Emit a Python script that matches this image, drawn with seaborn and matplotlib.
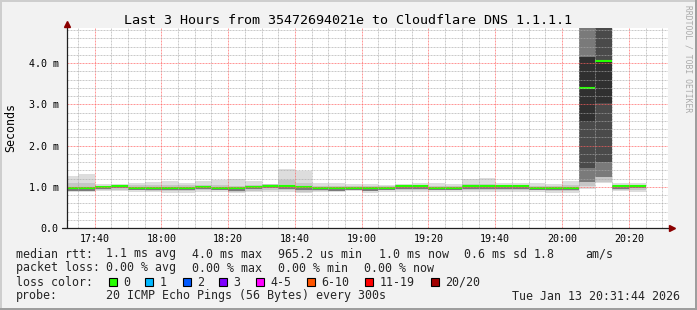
import numpy as np
import matplotlib
matplotlib.use("Agg")
import matplotlib.pyplot as plt
from matplotlib.patches import Rectangle
import seaborn as sns

# ---------------- data ----------------
bin_times = ["17:30", "17:35", "17:40", "17:45", "17:50", "17:55", "18:00", "18:05",
             "18:10", "18:15", "18:20", "18:25", "18:30", "18:35", "18:40", "18:45",
             "18:50", "18:55", "19:00", "19:05", "19:10", "19:15", "19:20", "19:25",
             "19:30", "19:35", "19:40", "19:45", "19:50", "19:55", "20:00", "20:05",
             "20:10", "20:15", "20:20"]

# median rtt (ms)
median_ms = [0.96, 0.96, 1.00, 1.02, 0.98, 0.98, 0.98, 0.98, 1.00, 0.97, 0.96, 1.00,
             1.02, 1.01, 0.99, 0.98, 0.96, 0.97, 0.96, 0.98, 1.01, 1.01, 0.98, 0.98,
             1.01, 1.01, 1.01, 1.01, 0.98, 0.975, 0.975, 3.39, 4.04, 1.01, 1.02]

# smoke layers (outer -> inner), lower / upper bounds in ms
smoke1_lo = [0.88, 0.88, 0.90, 0.89, 0.88, 0.87, 0.86, 0.86, 0.88, 0.88, 0.84, 0.87,
             0.88, 0.88, 0.84, 0.87, 0.88, 0.89, 0.86, 0.87, 0.88, 0.88, 0.87, 0.88,
             0.87, 0.88, 0.88, 0.87, 0.88, 0.86, 0.86, 0.95, 1.08, 0.89, 0.88]
smoke1_hi = [1.26, 1.30, 1.06, 1.07, 1.10, 1.11, 1.13, 1.10, 1.13, 1.16, 1.18, 1.15,
             1.07, 1.42, 1.38, 1.10, 1.10, 1.07, 1.06, 1.05, 1.07, 1.10, 1.10, 1.07,
             1.18, 1.22, 1.10, 1.10, 1.08, 1.07, 1.13, 5.00, 5.00, 1.08, 1.08]
smoke2_lo = [0.91, 0.91, 0.93, 0.93, 0.91, 0.90, 0.90, 0.90, 0.91, 0.91, 0.88, 0.90,
             0.92, 0.91, 0.88, 0.90, 0.91, 0.92, 0.90, 0.91, 0.92, 0.92, 0.91, 0.92,
             0.91, 0.92, 0.92, 0.91, 0.91, 0.90, 0.90, 1.03, 1.12, 0.93, 0.92]
smoke2_hi = [1.10, 1.08, 1.03, 1.05, 1.04, 1.04, 1.05, 1.04, 1.05, 1.04, 1.03, 1.05,
             1.06, 1.17, 1.10, 1.03, 1.01, 1.01, 1.01, 1.02, 1.04, 1.05, 1.03, 1.03,
             1.06, 1.07, 1.05, 1.05, 1.03, 1.02, 1.04, 5.00, 5.00, 1.04, 1.05]
smoke3_lo = [0.90, 0.90, 0.94, 0.96, 0.92, 0.92, 0.92, 0.92, 0.94, 0.91, 0.90, 0.94,
             0.96, 0.95, 0.93, 0.92, 0.90, 0.91, 0.90, 0.92, 0.95, 0.95, 0.92, 0.92,
             0.95, 0.95, 0.95, 0.95, 0.92, 0.915, 0.915, 1.12, 1.24, 0.95, 0.96]
smoke3_hi = [0.98, 0.98, 1.02, 1.04, 1.00, 1.00, 1.00, 1.00, 1.02, 0.99, 0.98, 1.02,
             1.04, 1.03, 1.01, 1.00, 0.98, 0.99, 0.98, 1.00, 1.03, 1.03, 1.00, 1.00,
             1.03, 1.03, 1.03, 1.03, 1.00, 0.995, 0.995, 5.00, 5.00, 1.03, 1.04]
# inner layers only visible in the two high-latency bins
smoke4_lo = [None] * 31 + [1.46, 1.60, None, None]
smoke4_hi = [None] * 31 + [4.15, 5.00, None, None]
smoke5_lo = [None] * 31 + [2.58, 3.03, None, None]
smoke5_hi = [None] * 31 + [4.15, 4.08, None, None]

smoke_colors = ["#dddddd", "#c6c6c6", "#7a7a7a", "#4a4a4a", "#303030"]

x_tick_labels = ["17:40", "18:00", "18:20", "18:40", "19:00", "19:20", "19:40", "20:00", "20:20"]
y_tick_values = [0.0, 1.0, 2.0, 3.0, 4.0]
y_tick_labels = ["0.0", "1.0 m", "2.0 m", "3.0 m", "4.0 m"]

loss_labels = ["0", "1", "2", "3", "4-5", "6-10", "11-19", "20/20"]
loss_colors = ["#26ff00", "#00b8ff", "#0059ff", "#7e00ff", "#ff00ff", "#ff5500", "#ff0000", "#a10000"]

title = "Last 3 Hours from 35472694021e to Cloudflare DNS 1.1.1.1"
window_end = "20:31:44"

# ---------------- figure ----------------
W, H = 697, 310
sns.set_theme(style="white")
plt.rcParams["font.family"] = ["DejaVu Sans Mono", "DejaVu Sans"]

def to_min(s):
    parts = [int(p) for p in s.split(":")]
    return parts[0] * 60 + parts[1] + (parts[2] / 60 if len(parts) > 2 else 0)

t = np.array([to_min(s) for s in bin_times])
BIN = 5.0
t_end = to_min(window_end)
t_start = t_end - 180

fig = plt.figure(figsize=(W / 100, H / 100), dpi=100)
fig.patch.set_facecolor("#f2f2f2")
ax = fig.add_axes([67 / W, 1 - 228 / H, 601 / W, 200 / H])
ax.set_facecolor("white")

layers = [(smoke1_lo, smoke1_hi), (smoke2_lo, smoke2_hi), (smoke3_lo, smoke3_hi),
          (smoke4_lo, smoke4_hi), (smoke5_lo, smoke5_hi)]
for (lo, hi), col in zip(layers, smoke_colors):
    lo = np.array([np.nan if v is None else v for v in lo], dtype=float)
    hi = np.array([np.nan if v is None else v for v in hi], dtype=float)
    m = ~np.isnan(lo)
    ax.bar(t[m], hi[m] - lo[m], bottom=lo[m], width=BIN, align="edge",
           color=col, linewidth=0, zorder=1)

ax.hlines(median_ms, t, t + BIN, colors=loss_colors[0], linewidth=1.5, zorder=2)

ax.set_xlim(t_start, t_end)
ax.set_ylim(0, 4.85)

xt = [to_min(s) for s in x_tick_labels]
ax.set_xticks(xt)
ax.set_xticklabels(x_tick_labels)
ax.set_xticks(np.arange(xt[0] - 5, t_end, 5), minor=True)
ax.set_yticks(y_tick_values)
ax.set_yticklabels(y_tick_labels)
ax.set_yticks(np.arange(0, 4.85, 0.2), minor=True)

ax.set_axisbelow(False)
ax.grid(which="minor", color="#a8a8a8", alpha=0.6, linestyle=(0, (2, 1)), linewidth=0.72)
ax.grid(which="major", color="#ff6060", alpha=0.65, linestyle=(0, (2, 1)), linewidth=0.72)

for sp in ax.spines.values():
    sp.set_visible(False)
ax.tick_params(axis="both", which="both", length=0, colors="#000000", labelsize=7.2)
ax.tick_params(axis="y", pad=6)
ax.tick_params(axis="x", pad=4)

# axis lines with arrows
ax.plot([-5 / 601, 1 + 2 / 601], [0, 0], transform=ax.transAxes, color="#202020",
        lw=0.9, clip_on=False, zorder=5)
ax.plot([0, 0], [0, 1 + 3 / 200], transform=ax.transAxes, color="#202020",
        lw=0.9, clip_on=False, zorder=5)
ax.plot([1 + 4 / 601], [0], marker=">", markersize=4, color="#8b0000",
        transform=ax.transAxes, clip_on=False, zorder=6)
ax.plot([0], [1 + 4 / 200], marker="^", markersize=4, color="#8b0000",
        transform=ax.transAxes, clip_on=False, zorder=6)

def ftext(x, y, s, **kw):
    fig.text(x / W, 1 - y / H, s, **kw)

ftext(348, 24, title, ha="center", va="baseline", fontsize=9.6, color="#000000")
ftext(11, 128, "Seconds", rotation=90, ha="center", va="center", fontsize=8.4, color="#000000")
ftext(688, 59, "RRDTOOL / TOBI OETIKER", rotation=270, ha="center", va="center",
      fontsize=5.8, color="#aaaaaa")

LF = 8.4
line1 = [("median rtt:", 16), ("1.1 ms avg", 107), ("4.0 ms max", 193), ("965.2 us min", 279),
         ("1.0 ms now", 379), ("0.6 ms sd", 465), ("1.8", 534), ("am/s", 586)]
line2 = [("packet loss:", 16), ("0.00 % avg", 107), ("0.00 % max", 193), ("0.00 % min", 279),
         ("0.00 % now", 365)]
line4 = [("probe:", 16), ("20 ICMP Echo Pings (56 Bytes) every 300s", 107),
         ("Tue Jan 13 20:31:44 2026", 513)]
for seg, yb in ((line1, 257.5), (line2, 271.5), (line4, 299.5)):
    for s, x in seg:
        ftext(x - 0.5, yb, s, ha="left", va="baseline", fontsize=LF)

ftext(15.5, 285.5, "loss color:", ha="left", va="baseline", fontsize=LF)
box_x = [108.7, 145.3, 182.7, 219, 256, 307.3, 365.3, 431]
for bx, lab, col in zip(box_x, loss_labels, loss_colors):
    fig.add_artist(Rectangle((bx / W, 1 - 285.7 / H), 8 / W, 8 / H, transform=fig.transFigure,
                             facecolor=col, edgecolor="#000000", linewidth=0.8))
    ftext(bx + 14.3, 285.5, lab, ha="left", va="baseline", fontsize=LF)

# frame shading
fig.add_artist(Rectangle((0, 1 - 2 / H), 1, 2 / H, transform=fig.transFigure, color="#cecece", lw=0))
fig.add_artist(Rectangle((0, 0), 2 / W, 1, transform=fig.transFigure, color="#cecece", lw=0))
fig.add_artist(Rectangle((0, 0), 1, 2 / H, transform=fig.transFigure, color="#9e9e9e", lw=0))
fig.add_artist(Rectangle((1 - 2 / W, 0), 2 / W, 1, transform=fig.transFigure, color="#9e9e9e", lw=0))

fig.savefig("out.png", dpi=100, facecolor=fig.get_facecolor())
